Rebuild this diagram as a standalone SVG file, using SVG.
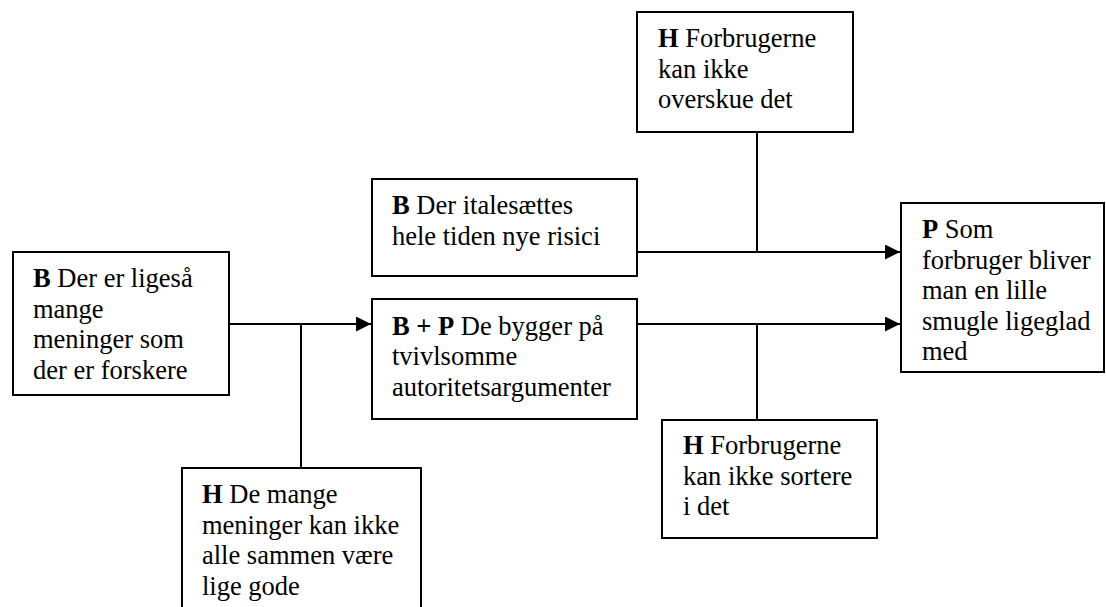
<svg xmlns="http://www.w3.org/2000/svg" width="1106" height="607" viewBox="0 0 1106 607">
<style>
.box{fill:#fff;stroke:#000;stroke-width:2}
.ln{fill:none;stroke:#000;stroke-width:2}
text{font-family:"Liberation Serif","Times New Roman",serif;font-size:26.5px;fill:#000}
.b{font-weight:bold}
</style>
<defs>
<marker id="ah" markerUnits="userSpaceOnUse" markerWidth="15" markerHeight="15" refX="15" refY="7.5" orient="auto">
<path d="M0,0 L15,7.5 L0,15 z" fill="#000"/>
</marker>
</defs>
<rect width="1106" height="607" fill="#fff"/>
<g id="connectors">
<line class="ln" x1="229" y1="324" x2="371" y2="324" marker-end="url(#ah)"/>
<line class="ln" x1="301" y1="324" x2="301" y2="468"/>
<line class="ln" x1="637" y1="252" x2="900" y2="252" marker-end="url(#ah)"/>
<line class="ln" x1="757" y1="132" x2="757" y2="252"/>
<line class="ln" x1="637" y1="324" x2="900" y2="324" marker-end="url(#ah)"/>
<line class="ln" x1="757" y1="324" x2="757" y2="420"/>
</g>
<g id="nodeA">
<rect class="box" x="13" y="252" width="216" height="143"/>
<text x="33" y="287"><tspan class="b">B</tspan> Der er ligeså</text>
<text x="33" y="317.5">mange</text>
<text x="33" y="348">meninger som</text>
<text x="33" y="378.5">der er forskere</text>
</g>
<g id="nodeB">
<rect class="box" x="372" y="179" width="265" height="97"/>
<text x="392" y="214"><tspan class="b">B</tspan> Der italesættes</text>
<text x="392" y="244.5">hele tiden nye risici</text>
</g>
<g id="nodeC">
<rect class="box" x="372" y="299" width="265" height="120"/>
<text x="392" y="334.5"><tspan class="b">B + P</tspan> De bygger på</text>
<text x="392" y="365">tvivlsomme</text>
<text x="392" y="395.5">autoritetsargumenter</text>
</g>
<g id="nodeHtop">
<rect class="box" x="637" y="12" width="216" height="120"/>
<text x="658" y="47"><tspan class="b">H</tspan> Forbrugerne</text>
<text x="658" y="77.5">kan ikke</text>
<text x="658" y="108">overskue det</text>
</g>
<g id="nodeHbottom">
<rect class="box" x="662" y="420" width="215" height="118"/>
<text x="683" y="454"><tspan class="b">H</tspan> Forbrugerne</text>
<text x="683" y="484.5">kan ikke sortere</text>
<text x="683" y="515">i det</text>
</g>
<g id="nodeHleft">
<rect class="box" x="182" y="468" width="239" height="170"/>
<text x="202" y="503"><tspan class="b">H</tspan> De mange</text>
<text x="202" y="533.5">meninger kan ikke</text>
<text x="202" y="564">alle sammen være</text>
<text x="202" y="594.5">lige gode</text>
</g>
<g id="nodeP">
<rect class="box" x="901" y="203" width="203" height="169"/>
<text x="922" y="238"><tspan class="b">P</tspan> Som</text>
<text x="922" y="268.5">forbruger bliver</text>
<text x="922" y="299">man en lille</text>
<text x="922" y="329.5">smugle ligeglad</text>
<text x="922" y="360">med</text>
</g>
</svg>
